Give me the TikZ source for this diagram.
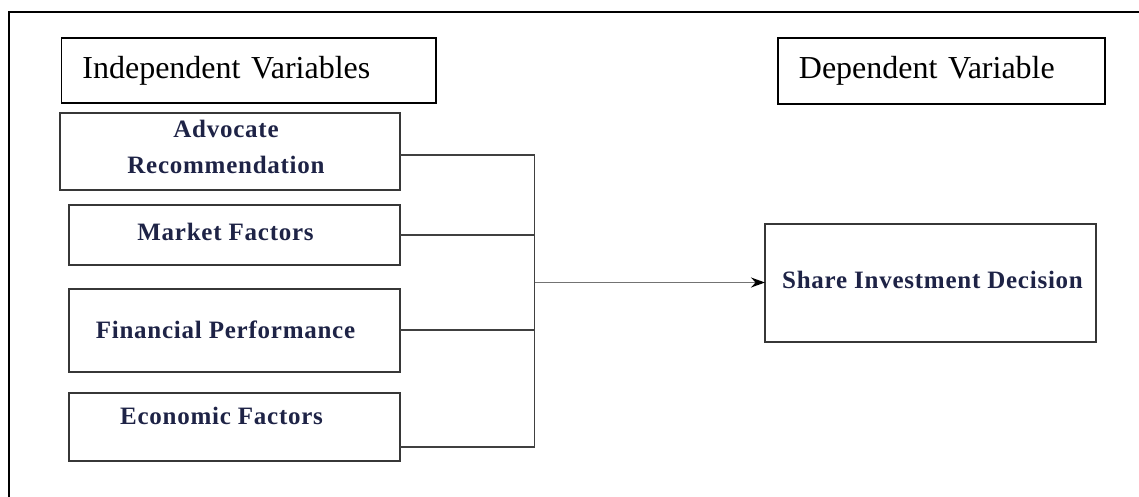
\documentclass[tikz,border=0pt]{standalone}
\usepackage{fontspec}
\setmainfont{Liberation Serif}
\newfontfamily\varfont[LetterSpace=3]{Liberation Serif}
\usepackage{tikz}
\usetikzlibrary{positioning, arrows.meta, calc}
\definecolor{varink}{RGB}{30,35,70}
\definecolor{boxline}{RGB}{55,55,55}
\tikzset{
    frame/.style={line width=1.8pt, draw=black}, % outer border
    headbox/.style={draw, line width=1.8pt, anchor=north west, inner xsep=21pt, inner ysep=0pt,
        align=left, font=\fontsize{32}{38}\selectfont}, % the two heading boxes
    varbox/.style={draw=boxline, line width=2pt, anchor=north west, inner sep=0pt, outer sep=0pt}, % variable boxes
    vartext/.style={anchor=base, align=center, text=varink, font=\varfont\bfseries\fontsize{25}{36}\selectfont},
    link/.style={line width=1.6pt, draw=black!75}, % connectors to the bus
    arr/.style={line width=1.4pt, draw=black!55, -{Stealth[black, length=14pt, width=10pt]}},
}
\begin{document}
\begin{tikzpicture}[x=1pt, y=-1pt]
    \useasboundingbox (0,0) rectangle (1139,496);
    \draw[frame] (9.3,510) |- (1150,11.7);

    % headings
    \node[headbox, text width=332.5pt, minimum height=65pt] (iv) at (60.5,37) {Independent Variables};
    \node[headbox, text width=285pt, minimum height=66pt] (dv) at (777,37) {Dependent Variable};

    % independent variables
    \node[varbox, minimum width=340pt, minimum height=77pt] (adv) at (60,113) {};
    \node[varbox, minimum width=331pt, minimum height=60pt] (mkt) at (69,205) {};
    \node[varbox, minimum width=331pt, minimum height=83pt] (fin) at (69,288.5) {};
    \node[varbox, minimum width=331pt, minimum height=68pt] (eco) at (69,393) {};
    \node[vartext] (advtxt) at (226,173) {Advocate\\Recommendation};
    \node[vartext] (mkttxt) at (225.5,240) {Market Factors};
    \node[vartext] (fintxt) at (225.5,338) {Financial Performance};
    \node[vartext] (ecotxt) at (221.5,424) {Economic Factors};

    % dependent variable
    \node[varbox, minimum width=331pt, minimum height=118pt] (shr) at (765,223.5) {};
    \node[vartext] (shrtxt) at (932.5,288) {Share Investment Decision};

    % bus
    \coordinate (busbot) at (534.5,447);
    \coordinate (busmid) at (534.5,282.5);
    \draw[link] ([yshift=-3.5pt]adv.east) -| (busbot);
    \draw[link] (mkt.east) -- (mkt.east -| busbot);
    \draw[link] (fin.east) -- (fin.east -| busbot);
    \draw[link] (eco.east |- busbot) -- (busbot);
    \draw[arr] (busmid) -- (shr.west);
\end{tikzpicture}
\end{document}
